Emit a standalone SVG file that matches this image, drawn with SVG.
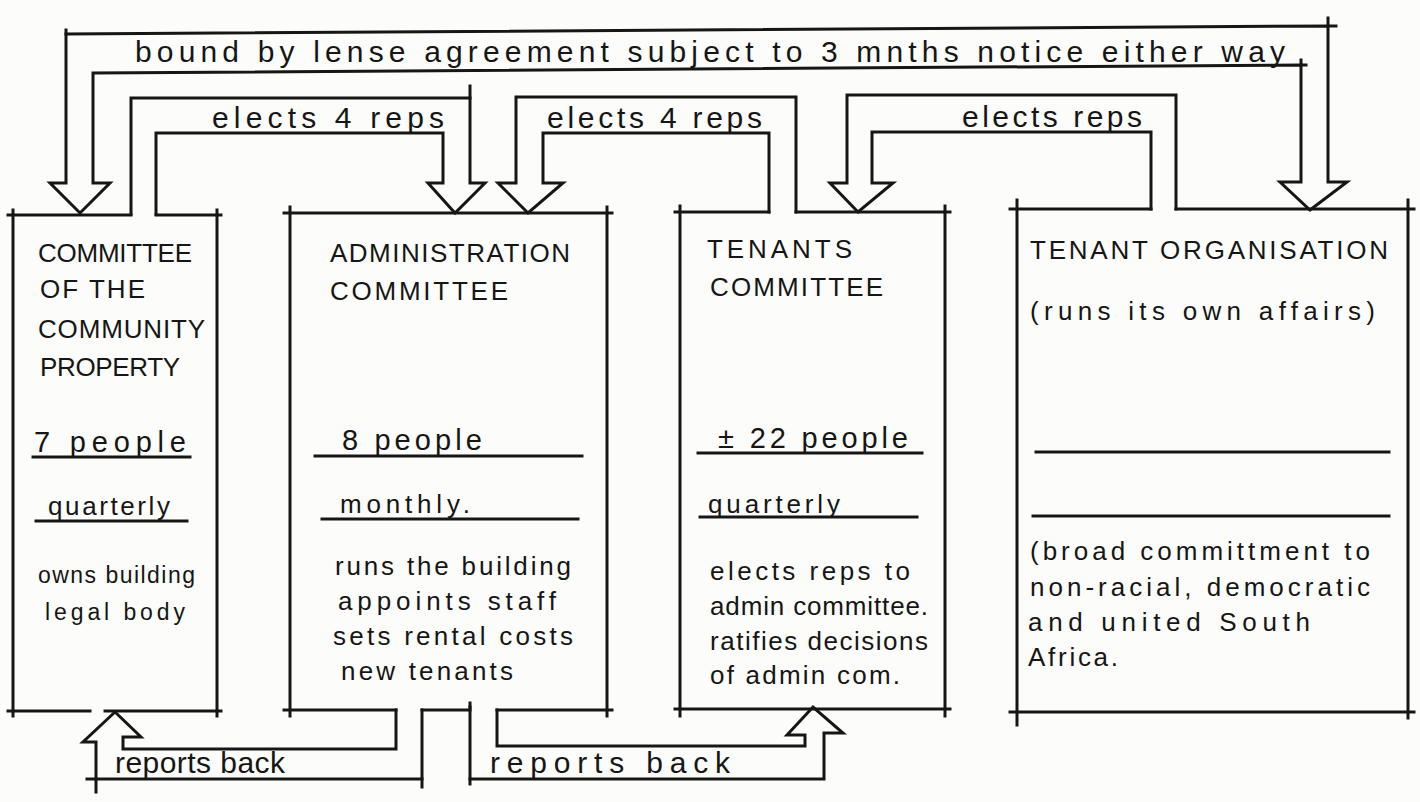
<svg xmlns="http://www.w3.org/2000/svg" width="1420" height="802" viewBox="0 0 1420 802">
<style>
.ln{fill:none;stroke:#161616;stroke-width:3;stroke-linecap:square;stroke-linejoin:miter}
.t{font-family:"Liberation Sans","DejaVu Sans",Arial,sans-serif;fill:#161616;font-size:26px}
.s{font-size:23px}
.big{font-size:29px}
.lbl{font-size:30px}
</style>
<rect width="1420" height="802" fill="#fcfcfa"/>

<g id="connectors">
  <!-- bound by lease agreement: double-headed hollow arrow between property committee and tenant organisation -->
  <path class="ln" d="M66,183 L66,34 L1328,26 L1328,182 L1347,182 L1310,210 L1280,182 L1301,182 L1301,65 L93,73 L93,183 L110,183 L80,213 L50,183 Z"/>
  <path class="ln" d="M66,34 L66,30 M1328,26 L1336,26 M1328,26 L1328,18 M1301,65 L1301,60 M1301,65 L1306,65"/>
  <!-- property committee elects 4 reps to administration -->
  <path class="ln" d="M131,214 L131,98 L470,98 L470,183 L485,183 L455,213 L428,183 L443,183 L443,133 L156,133 L156,214"/>
  <path class="ln" d="M470,98 L470,86"/>
  <!-- tenants committee elects 4 reps to administration -->
  <path class="ln" d="M796,212 L796,97 L516,97 L516,183 L498,183 L528,213 L563,183 L543,183 L543,133 L769,133 L769,212"/>
  <!-- tenant organisation elects reps to tenants committee -->
  <path class="ln" d="M1176,209 L1176,95 L847,95 L847,183 L830,183 L858,212 L893,183 L872,183 L872,132 L1151,132 L1151,209"/>
  <!-- administration reports back to property committee -->
  <path class="ln" d="M396,710 L396,749 L123,749 L123,737 L141,737 L115,712 L83,742 L96,742 L96,779 L422,779 L422,710"/>
  <path class="ln" d="M96,779 L96,792 M96,779 L87,779 M422,779 L422,787"/>
  <!-- administration reports back to tenants committee -->
  <path class="ln" d="M497,710 L497,746 L805,746 L805,735 L787,735 L813,707 L843,733 L824,733 L824,779 L470,779 L470,707"/>
  <path class="ln" d="M470,779 L470,784 M470,707 L470,703"/>
  <text class="t lbl" x="135" y="62" textLength="1150" lengthAdjust="spacing">bound by lense agreement subject to 3 mnths notice either way</text>
  <text class="t lbl" x="212" y="128" textLength="232" lengthAdjust="spacing">elects 4 reps</text>
  <text class="t lbl" x="547" y="128" textLength="215" lengthAdjust="spacing">elects 4 reps</text>
  <text class="t lbl" x="962" y="127" textLength="180" lengthAdjust="spacing">elects reps</text>
  <text class="t lbl" x="115" y="773" textLength="170" lengthAdjust="spacing">reports back</text>
  <text class="t lbl" x="490" y="773" textLength="240" lengthAdjust="spacing">reports back</text>
</g>

<g id="committee-of-community-property">
  <path class="ln" d="M8,215 L131,215 M156,215 L221,215 M13,210 L13,716 M217,210 L217,716 M8,711 L90,711 M105,711 L221,711"/>
  <path class="ln" d="M33,457 L190,457 M36,521 L187,521"/>
  <text class="t" x="38" y="262" textLength="154" lengthAdjust="spacing">COMMITTEE</text>
  <text class="t" x="40" y="298" textLength="105" lengthAdjust="spacing">OF THE</text>
  <text class="t" x="38" y="338" textLength="167" lengthAdjust="spacing">COMMUNITY</text>
  <text class="t" x="40" y="376" textLength="140" lengthAdjust="spacing">PROPERTY</text>
  <text class="t big" x="34" y="452" textLength="152" lengthAdjust="spacing">7 people</text>
  <text class="t" x="48" y="515" textLength="122" lengthAdjust="spacing">quarterly</text>
  <text class="t s" x="38" y="583" textLength="157" lengthAdjust="spacing">owns building</text>
  <text class="t s" x="45" y="620" textLength="140" lengthAdjust="spacing">legal body</text>
</g>

<g id="administration-committee">
  <path class="ln" d="M284,213 L612,213 M290,207 L290,716 M607,207 L607,716 M284,710 L396,710 M422,710 L470,710 M497,710 L612,710"/>
  <path class="ln" d="M315,456 L582,456 M322,519 L578,519"/>
  <text class="t" x="330" y="262" textLength="240" lengthAdjust="spacing">ADMINISTRATION</text>
  <text class="t" x="330" y="300" textLength="178" lengthAdjust="spacing">COMMITTEE</text>
  <text class="t big" x="342" y="450" textLength="140" lengthAdjust="spacing">8 people</text>
  <text class="t" x="340" y="513" textLength="130" lengthAdjust="spacing">monthly.</text>
  <text class="t" x="335" y="575" textLength="236" lengthAdjust="spacing">runs the building</text>
  <text class="t" x="338" y="610" textLength="218" lengthAdjust="spacing">appoints staff</text>
  <text class="t" x="333" y="645" textLength="240" lengthAdjust="spacing">sets rental costs</text>
  <text class="t" x="341" y="680" textLength="172" lengthAdjust="spacing">new tenants</text>
</g>

<g id="tenants-committee">
  <path class="ln" d="M675,212 L769,212 M796,212 L950,212 M680,206 L680,716 M945,206 L945,716 M675,709 L950,709"/>
  <path class="ln" d="M698,453 L922,453 M700,517 L917,517"/>
  <text class="t" x="707" y="258" textLength="145" lengthAdjust="spacing">TENANTS</text>
  <text class="t" x="710" y="296" textLength="173" lengthAdjust="spacing">COMMITTEE</text>
  <text class="t big" x="718" y="448" textLength="190" lengthAdjust="spacing">± 22 people</text>
  <text class="t" x="708" y="513" textLength="132" lengthAdjust="spacing">quarterly</text>
  <text class="t" x="710" y="580" textLength="200" lengthAdjust="spacing">elects reps to</text>
  <text class="t" x="710" y="615" textLength="218" lengthAdjust="spacing">admin committee.</text>
  <text class="t" x="710" y="650" textLength="218" lengthAdjust="spacing">ratifies decisions</text>
  <text class="t" x="710" y="684" textLength="190" lengthAdjust="spacing">of admin com.</text>
</g>

<g id="tenant-organisation">
  <path class="ln" d="M1010,209 L1151,209 M1176,209 L1414,209 M1017,200 L1017,725 M1408,200 L1408,718 M1010,712 L1414,712"/>
  <path class="ln" d="M1036,452 L1389,452 M1033,516 L1389,516"/>
  <text class="t" x="1030" y="259" textLength="358" lengthAdjust="spacing">TENANT ORGANISATION</text>
  <text class="t" x="1030" y="320" textLength="345" lengthAdjust="spacing">(runs its own affairs)</text>
  <text class="t" x="1030" y="560" textLength="340" lengthAdjust="spacing">(broad committment to</text>
  <text class="t" x="1030" y="596" textLength="340" lengthAdjust="spacing">non-racial, democratic</text>
  <text class="t" x="1028" y="631" textLength="282" lengthAdjust="spacing">and united South</text>
  <text class="t" x="1028" y="666" textLength="90" lengthAdjust="spacing">Africa.</text>
</g>
</svg>
